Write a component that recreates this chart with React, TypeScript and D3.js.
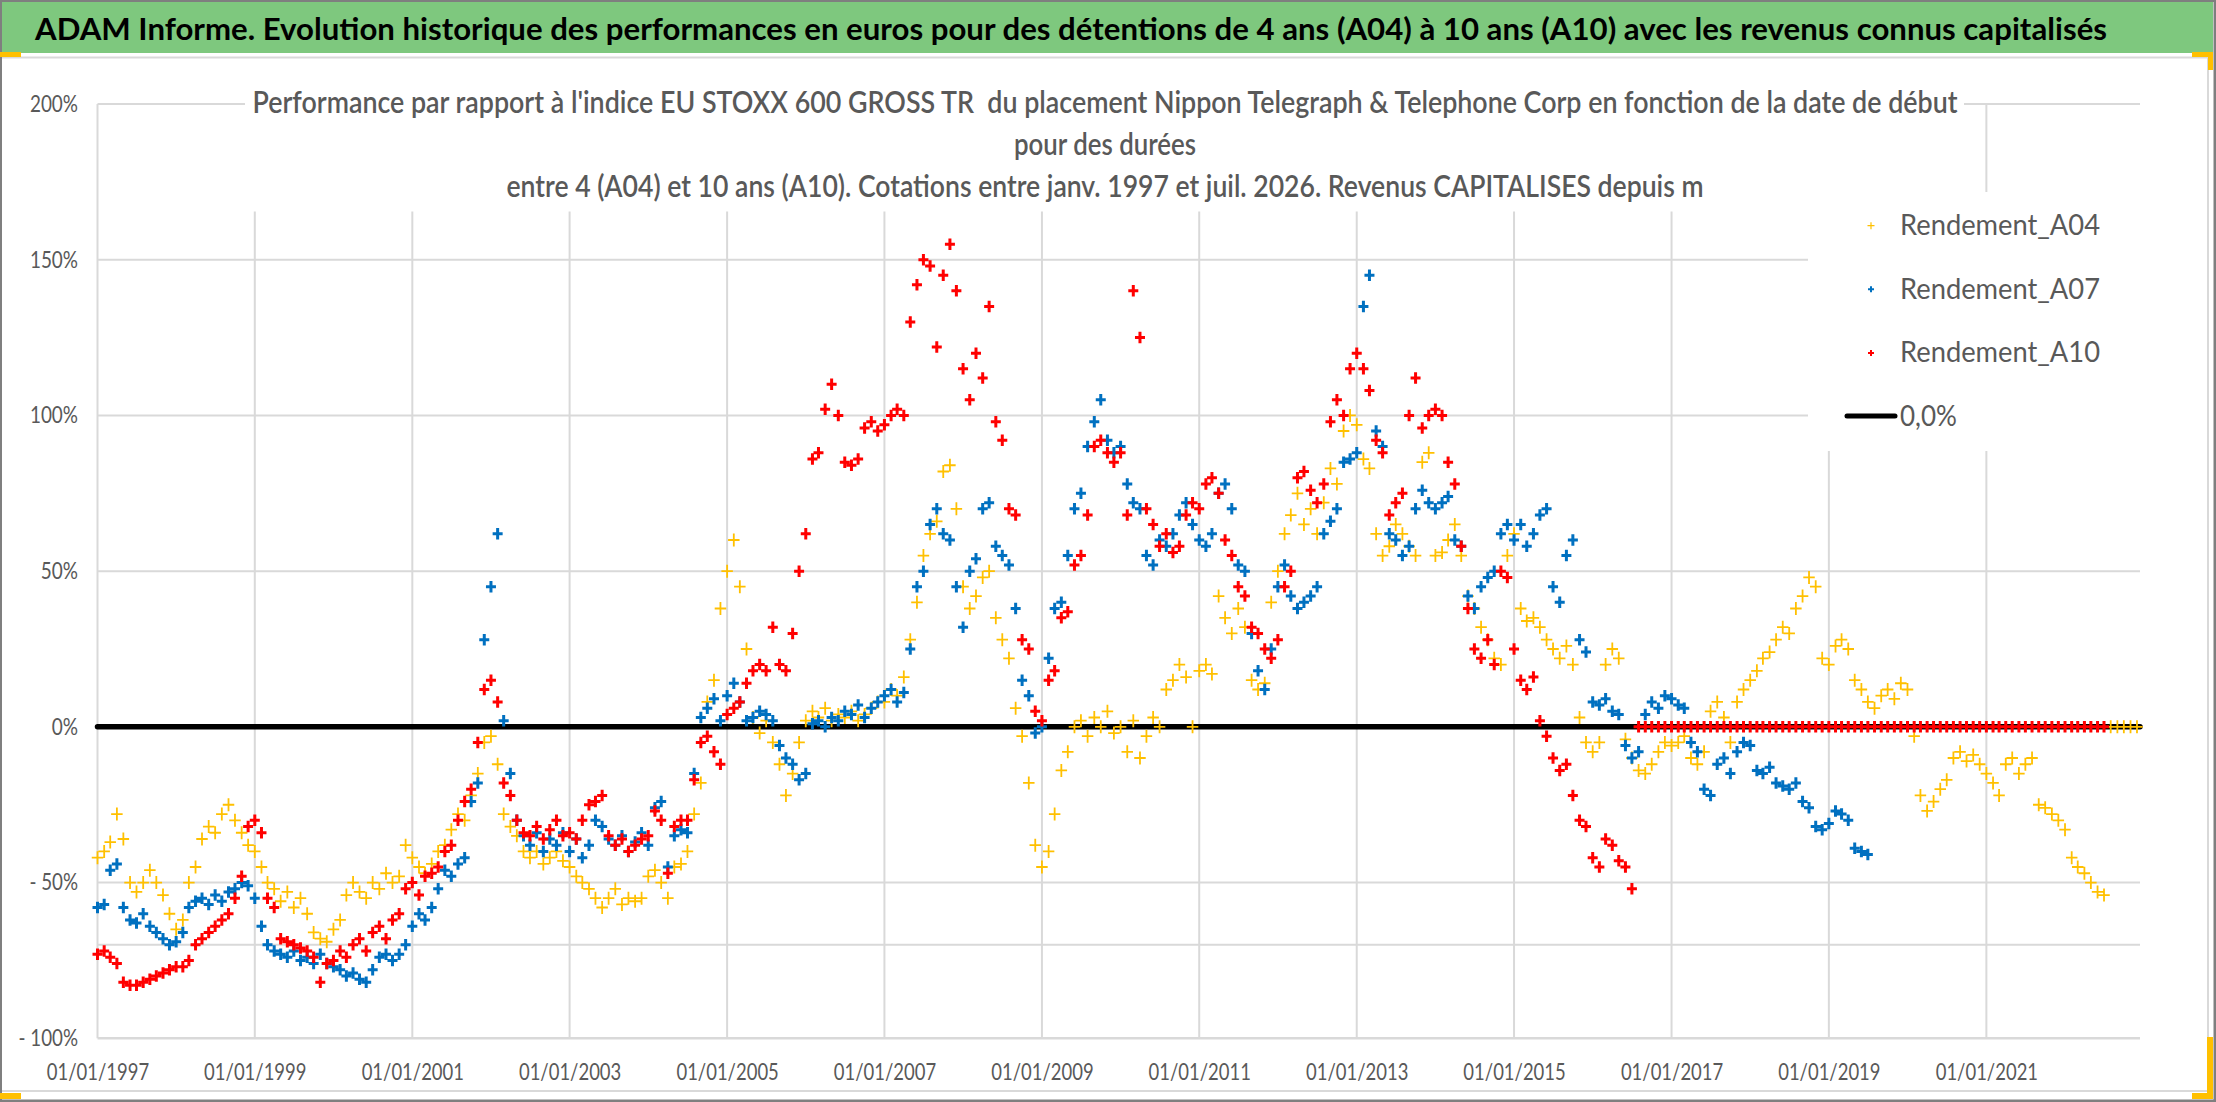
import { useEffect, useRef } from 'react';
import * as d3 from 'd3';

const WIDTH = 2216;
const HEIGHT = 1102;

// une valeur par mois à partir de janvier 1997
const START_DATE = '1997-01-01';
const AXIS_END_DATE = '2022-12-15';

const rendementA04 = [
  -42, -40, -37, -28, -36, -50, -53, -50, -46, -50, -54, -60, // 1997
  -65, -62, -50, -45, -36, -32, -34, -28, -25, -30, -34, -38, // 1998
  -40, -45, -50, -52, -56, -53, -58, -55, -60, -66, -68, -69, // 1999
  -65, -62, -54, -50, -53, -55, -50, -52, -47, -50, -48, -38, // 2000
  -42, -45, -47, -44, -40, -38, -33, -28, -30, -22, -15, -5, // 2001
  -3, -12, -28, -32, -35, -40, -42, -40, -44, -42, -40, -43, // 2002
  -45, -48, -50, -52, -55, -58, -55, -52, -57, -55, -56, -55, // 2003
  -48, -46, -50, -55, -45, -44, -40, -28, -18, 8, 15, 38, // 2004
  50, 60, 45, 25, 3, -2, 2, -5, -12, -22, -15, -5, // 2005
  2, 5, 3, 6, 2, 4, 3, 5, 2, 4, 6, 8, // 2006
  8, 12, 10, 16, 28, 40, 55, 62, 66, 82, 84, 70, // 2007
  45, 38, 42, 48, 50, 35, 28, 22, 6, -3, -18, -38, // 2008
  -45, -40, -28, -14, -8, 0, 2, -3, 3, 0, 5, -2, // 2009
  0, -8, 2, -10, -3, 3, 0, 12, 15, 20, 16, 0, // 2010
  18, 20, 17, 42, 35, 30, 38, 32, 15, 12, 14, 40, // 2011
  50, 62, 68, 75, 65, 70, 62, 72, 83, 78, 95, 100, // 2012
  97, 86, 83, 62, 55, 58, 65, 62, 58, 55, 85, 88, // 2013
  55, 56, 60, 65, 55, 42, 38, 32, 28, 22, 20, 55, // 2014
  62, 38, 34, 35, 32, 28, 25, 22, 26, 20, 3, -5, // 2015
  -8, -5, 20, 25, 22, -4, -10, -14, -15, -12, -8, -5, // 2016
  -6, -5, -3, -10, -12, -8, 5, 8, 3, -5, 8, 12, // 2017
  15, 18, 22, 24, 28, 32, 30, 38, 42, 48, 45, 22, // 2018
  20, 26, 28, 25, 15, 12, 8, 6, 10, 12, 9, 14, // 2019
  12, -3, -22, -27, -24, -20, -17, -10, -8, -11, -9, -12, // 2020
  -15, -18, -22, -12, -10, -15, -12, -10, -25, -26, -28, -30, // 2021
  -33, -42, -45, -47, -50, -53, -54, 0, 0, 0, 0, 0, // 2022
];

const rendementA07 = [
  -58, -57, -46, -44, -58, -62, -63, -60, -64, -66, -68, -70, // 1997
  -69, -66, -58, -56, -55, -57, -54, -56, -53, -52, -50, -51, // 1998
  -55, -64, -70, -72, -73, -74, -72, -75, -74, -76, -73, -76, // 1999
  -77, -78, -80, -79, -81, -82, -78, -74, -73, -75, -73, -70, // 2000
  -64, -60, -62, -58, -52, -46, -48, -44, -42, -24, -18, 28, // 2001
  45, 62, 2, -15, -30, -35, -38, -34, -40, -36, -38, -34, // 2002
  -40, -36, -42, -38, -30, -32, -36, -38, -35, -40, -37, -34, // 2003
  -38, -26, -24, -45, -35, -33, -34, -15, 3, 6, 9, 2, // 2004
  10, 14, 8, 2, 3, 5, 4, 2, -6, -10, -12, -17, // 2005
  -15, 1, 2, 0, 3, 2, 5, 4, 7, 3, 6, 8, // 2006
  10, 12, 8, 11, 25, 45, 50, 65, 70, 62, 60, 45, // 2007
  32, 50, 54, 70, 72, 58, 55, 52, 38, 15, 10, -2, // 2008
  0, 22, 38, 40, 55, 70, 75, 90, 98, 105, 92, 88, // 2009
  90, 78, 72, 70, 55, 52, 60, 58, 62, 68, 72, 65, // 2010
  60, 58, 62, 75, 78, 70, 52, 50, 30, 18, 12, 25, // 2011
  45, 52, 42, 38, 40, 42, 45, 62, 66, 70, 85, 86, // 2012
  88, 135, 145, 95, 90, 62, 60, 55, 58, 70, 76, 72, // 2013
  70, 72, 74, 60, 58, 42, 38, 45, 48, 50, 62, 65, // 2014
  60, 65, 58, 62, 68, 70, 45, 40, 55, 60, 28, 24, // 2015
  8, 7, 9, 5, 4, -6, -10, -8, 4, 8, 6, 10, // 2016
  9, 7, 6, -5, -8, -20, -22, -12, -10, -15, -8, -5, // 2017
  -6, -14, -15, -13, -18, -19, -20, -18, -24, -26, -32, -33, // 2018
  -31, -27, -28, -30, -39, -40, -41, // 2019
];

const rendementA10 = [
  -73, -72, -74, -76, -82, -83, -83, -82, -81, -80, -79, -78, // 1997
  -77, -77, -75, -70, -68, -66, -64, -62, -60, -55, -48, -32, // 1998
  -30, -34, -55, -58, -68, -69, -70, -71, -72, -74, -82, -76, // 1999
  -75, -72, -74, -70, -68, -72, -66, -64, -68, -62, -60, -52, // 2000
  -50, -54, -48, -47, -45, -40, -38, -30, -24, -20, -5, 12, // 2001
  15, 8, -18, -22, -30, -34, -35, -32, -36, -33, -30, -35, // 2002
  -34, -36, -30, -25, -24, -22, -35, -38, -36, -40, -38, -36, // 2003
  -35, -27, -30, -47, -32, -30, -30, -17, -5, -3, -8, -12, // 2004
  4, 6, 8, 14, 18, 20, 18, 32, 20, 18, 30, 50, // 2005
  62, 86, 88, 102, 110, 100, 85, 84, 86, 96, 98, 95, // 2006
  97, 100, 102, 100, 130, 142, 150, 148, 122, 145, 155, 140, // 2007
  115, 105, 120, 112, 135, 98, 92, 70, 68, 28, 25, 5, // 2008
  2, 15, 18, 35, 37, 52, 55, 68, 90, 92, 88, 85, // 2009
  88, 68, 140, 125, 70, 65, 58, 62, 56, 58, 68, 72, // 2010
  70, 78, 80, 75, 60, 55, 45, 42, 32, 30, 25, 22, // 2011
  28, 45, 50, 80, 82, 76, 72, 78, 98, 105, 100, 115, // 2012
  120, 115, 108, 92, 88, 68, 72, 75, 100, 112, 96, 100, // 2013
  102, 100, 85, 78, 58, 38, 25, 22, 28, 20, 50, 48, // 2014
  25, 15, 12, 16, 2, -3, -10, -14, -12, -22, -30, -32, // 2015
  -42, -45, -36, -38, -43, -45, -52, 0, 0, 0, 0, 0, // 2016
  0, 0, 0, 0, 0, 0, 0, 0, 0, 0, 0, 0, // 2017
  0, 0, 0, 0, 0, 0, 0, 0, 0, 0, 0, 0, // 2018
  0, 0, 0, 0, 0, 0, 0, 0, 0, 0, 0, 0, // 2019
  0, 0, 0, 0, 0, 0, 0, 0, 0, 0, 0, 0, // 2020
  0, 0, 0, 0, 0, 0, 0, 0, 0, 0, 0, 0, // 2021
  0, 0, 0, 0, 0, 0, 0, // 2022
];

// série "0,0%" : une droite sur toute la période
const zeroLevel = [0, 0];

const yTickValues = [-100, -50, 0, 50, 100, 150, 200];
const yGridValues = [-70, -50, 0, 50, 100, 150, 200];
const xTickYears = [1997, 1999, 2001, 2003, 2005, 2007, 2009, 2011, 2013, 2015, 2017, 2019, 2021];

const TITLE =
  'ADAM Informe. Evolution historique des performances en euros pour des détentions de 4 ans (A04) à 10 ans (A10) avec les revenus connus capitalisés';
const SUBTITLE_LINES = [
  "Performance par rapport à l'indice EU STOXX 600 GROSS TR  du placement Nippon Telegraph & Telephone Corp en fonction de la date de début",
  'pour des durées',
  'entre 4 (A04) et 10 ans (A10). Cotations entre janv. 1997 et juil. 2026. Revenus CAPITALISES depuis m',
];
const SUBTITLE_WIDTHS = [1705, 182, 1197];

const LEGEND_LABELS = ['Rendement_A04', 'Rendement_A07', 'Rendement_A10', '0,0%'];
const LEGEND_WIDTHS = [200, 200, 200, 57];

const GREY_TEXT = '#595959';
const GRID = '#d9d9d9';
const FONT = "Lato, 'Liberation Sans', Arial, sans-serif";

// largeurs approximatives des glyphes (en em) pour caler la longueur des libellés
const charWidth: Record<string, number> = { '/': 0.386, '%': 0.715, '-': 0.306, ' ': 0.226 };
const labelLength = (s: string, em: number) =>
  s.split('').reduce((acc, c) => acc + (charWidth[c] ?? 0.507), 0) * em;

export default function App() {
  const svgRef = useRef<SVGSVGElement>(null);

  useEffect(() => {
    if (!svgRef.current) return;
    const root = d3.select(svgRef.current);
    root.selectAll('*').remove();

    const start = new Date(START_DATE + 'T00:00:00Z');
    const end = new Date(AXIS_END_DATE + 'T00:00:00Z');

    const x = d3.scaleUtc().domain([start, end]).range([97.5, 2140]);
    const y = d3.scaleLinear().domain([-100, 200]).range([1038.3, 104]);

    root
      .append('rect')
      .attr('x', 0)
      .attr('y', 0)
      .attr('width', WIDTH)
      .attr('height', HEIGHT)
      .attr('fill', '#ffffff');

    // Bandeau vert du titre
    root
      .append('rect')
      .attr('x', 0)
      .attr('y', 1.5)
      .attr('width', 2213)
      .attr('height', 51.5)
      .attr('fill', '#7ec87e');

    root
      .append('text')
      .attr('x', 35)
      .attr('y', 39.5)
      .attr('font-size', 30)
      .attr('font-weight', 700)
      .attr('fill', '#000000')
      .attr('textLength', 2072)
      .attr('lengthAdjust', 'spacingAndGlyphs')
      .text(TITLE);

    // zone du graphique
    root
      .append('rect')
      .attr('x', 1)
      .attr('y', 57.5)
      .attr('width', 2207)
      .attr('height', 1033.5)
      .attr('fill', '#ffffff')
      .attr('stroke', GRID)
      .attr('stroke-width', 2);

    const plot = root.append('g');

    // Grille horizontale
    plot
      .selectAll('line.hgrid')
      .data(yGridValues)
      .enter()
      .append('line')
      .attr('class', 'hgrid')
      .attr('x1', 97.5)
      .attr('x2', 2140)
      .attr('y1', (d) => y(d))
      .attr('y2', (d) => y(d))
      .attr('stroke', GRID)
      .attr('stroke-width', 2);

    const xTicks = xTickYears.map((yr) => new Date(Date.UTC(yr, 0, 1)));

    // Grille verticale
    plot
      .selectAll('line.vgrid')
      .data(xTicks.slice(1))
      .enter()
      .append('line')
      .attr('class', 'vgrid')
      .attr('x1', (d) => x(d))
      .attr('x2', (d) => x(d))
      .attr('y1', y(200))
      .attr('y2', y(-100))
      .attr('stroke', GRID)
      .attr('stroke-width', 2);

    // Axes (lignes)
    plot
      .append('line')
      .attr('x1', 97.5)
      .attr('x2', 97.5)
      .attr('y1', y(200))
      .attr('y2', y(-100))
      .attr('stroke', GRID)
      .attr('stroke-width', 2);
    plot
      .append('line')
      .attr('x1', 97.5)
      .attr('x2', 2140)
      .attr('y1', y(-100))
      .attr('y2', y(-100))
      .attr('stroke', GRID)
      .attr('stroke-width', 2.5);

    // Fonds blancs du sous-titre et de la légende (masquent la grille)
    plot.append('rect').attr('x', 245).attr('y', 70).attr('width', 1719).attr('height', 141.5).attr('fill', '#ffffff');
    plot.append('rect').attr('x', 1808).attr('y', 192).attr('width', 398).attr('height', 259).attr('fill', '#ffffff');

    // Libellés des axes
    const yAxis = plot
      .append('g')
      .attr('transform', 'translate(97.5,0)')
      .call(
        d3
          .axisLeft(y)
          .tickValues(yTickValues)
          .tickSize(0)
          .tickPadding(19.5)
          .tickFormat((d) => {
            const v = d as number;
            return v < 0 ? `- ${-v}%` : `${v}%`;
          }),
      );
    yAxis.select('.domain').remove();
    yAxis
      .selectAll<SVGTextElement, number>('text')
      .attr('fill', GREY_TEXT)
      .attr('font-family', FONT)
      .style('font-size', '23px')
      .attr('textLength', function () {
        return labelLength(this.textContent || '', 21.5);
      })
      .attr('lengthAdjust', 'spacingAndGlyphs');

    const fmt = d3.utcFormat('%d/%m/%Y');
    const xAxis = plot
      .append('g')
      .attr('transform', `translate(0,${y(-100)})`)
      .call(
        d3
          .axisBottom(x)
          .tickValues(xTicks)
          .tickSize(0)
          .tickPadding(25.5)
          .tickFormat((d) => fmt(d as Date)),
      );
    xAxis.select('.domain').remove();
    xAxis
      .selectAll<SVGTextElement, Date>('text')
      .attr('fill', GREY_TEXT)
      .attr('font-family', FONT)
      .style('font-size', '23px')
      .attr('textLength', function () {
        return labelLength(this.textContent || '', 21.2);
      })
      .attr('lengthAdjust', 'spacingAndGlyphs');

    // Série 0,0% (sous les marqueurs)
    const zeroLine = d3
      .line<number>()
      .x((_, i) => x(i === 0 ? start : end))
      .y((d) => y(d));
    plot
      .append('path')
      .datum(zeroLevel)
      .attr('fill', 'none')
      .attr('stroke', '#000000')
      .attr('stroke-width', 5.5)
      .attr('stroke-linecap', 'round')
      .attr('d', zeroLine);

    // Nuages de points "+"
    const series = [
      { values: rendementA04, color: '#ffc000', w: 11.5, h: 13, sw: 1.8 },
      { values: rendementA07, color: '#0070c0', w: 10, h: 11.5, sw: 3 },
      { values: rendementA10, color: '#ff0000', w: 10, h: 11.5, sw: 3 },
    ];

    for (const s of series) {
      const d = s.values
        .map((v, i) => {
          const px = x(d3.utcMonth.offset(start, i));
          const py = y(v);
          return `M${px - s.w / 2},${py}h${s.w}M${px},${py - s.h / 2}v${s.h}`;
        })
        .join('');
      plot
        .append('path')
        .attr('d', d)
        .attr('fill', 'none')
        .attr('stroke', s.color)
        .attr('stroke-width', s.sw);
    }

    // Sous-titre
    const sub = root
      .append('text')
      .attr('fill', GREY_TEXT)
      .attr('font-family', FONT)
      .attr('font-size', 30)
      .attr('font-weight', 600)
      .attr('text-anchor', 'middle')
      .style('white-space', 'pre');
    SUBTITLE_LINES.forEach((line, i) => {
      sub
        .append('tspan')
        .attr('x', 1105)
        .attr('y', 113 + i * 42)
        .attr('textLength', SUBTITLE_WIDTHS[i])
        .attr('lengthAdjust', 'spacingAndGlyphs')
        .text(line);
    });

    // Légende
    const legend = root.append('g');
    LEGEND_LABELS.forEach((label, i) => {
      const cy = 225.7 + i * 63.6;
      if (i < 3) {
        const s = series[i];
        const mw = i === 0 ? 7 : 6;
        legend
          .append('path')
          .attr('d', `M${1871 - mw / 2},${cy}h${mw}M1871,${cy - mw / 2}v${mw}`)
          .attr('stroke', s.color)
          .attr('stroke-width', i === 0 ? 1.2 : 2);
      } else {
        legend
          .append('line')
          .attr('x1', 1847)
          .attr('x2', 1895)
          .attr('y1', cy - 0.5)
          .attr('y2', cy - 0.5)
          .attr('stroke', '#000000')
          .attr('stroke-width', 5)
          .attr('stroke-linecap', 'round');
      }
      legend
        .append('text')
        .attr('x', 1900)
        .attr('y', cy + 9.5)
        .attr('fill', GREY_TEXT)
        .attr('font-family', FONT)
        .attr('font-size', 28)
        .attr('textLength', LEGEND_WIDTHS[i])
        .attr('lengthAdjust', 'spacingAndGlyphs')
        .text(label);
    });

    // Bordure et poignées de sélection
    root
      .append('rect')
      .attr('x', 0.75)
      .attr('y', 0.75)
      .attr('width', WIDTH - 2)
      .attr('height', HEIGHT - 2)
      .attr('fill', 'none')
      .attr('stroke', '#7f7f7f')
      .attr('stroke-width', 2.5);

    const handles = [
      [0, 52, 21, 5],
      [2192, 52, 21, 5],
      [2208, 52, 5, 18],
      [2207, 1037, 6, 62],
      [2192, 1093, 21, 6],
      [0, 1093, 21, 6],
    ];
    root
      .selectAll('rect.handle')
      .data(handles)
      .enter()
      .append('rect')
      .attr('class', 'handle')
      .attr('x', (d) => d[0])
      .attr('y', (d) => d[1])
      .attr('width', (d) => d[2])
      .attr('height', (d) => d[3])
      .attr('fill', '#ffc000');
  }, []);

  return (
    <div style={{ position: 'absolute', left: 0, top: 0, width: WIDTH, height: HEIGHT }}>
      <svg
        ref={svgRef}
        width={WIDTH}
        height={HEIGHT}
        style={{ display: 'block', fontFamily: FONT }}
      />
    </div>
  );
}
